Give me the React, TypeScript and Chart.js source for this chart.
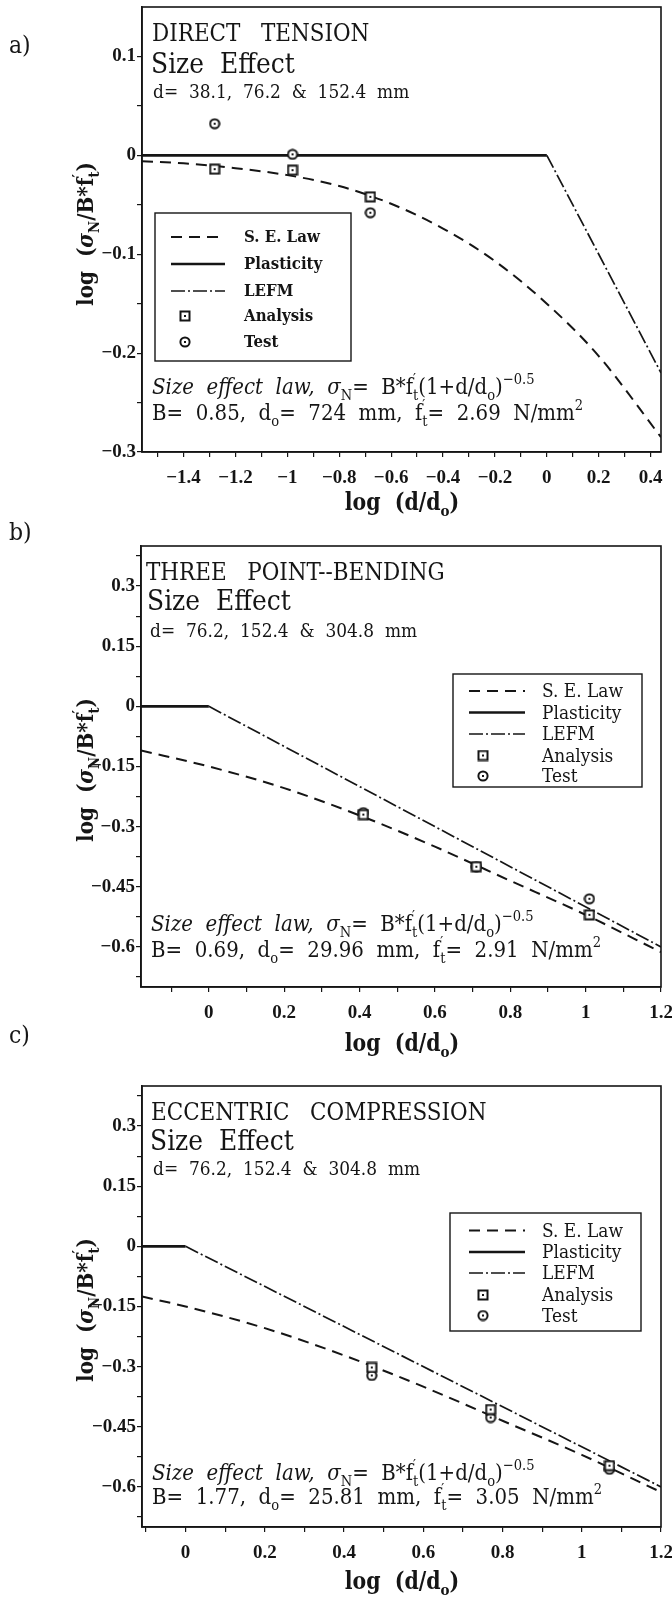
import React, { useEffect, useRef } from "react";
import { Chart, registerables } from "chart.js";

Chart.register(...registerables);

const FAMILY = "'DejaVu Serif', 'Liberation Serif', serif";
const TICK_FAMILY = "'Liberation Serif', 'DejaVu Serif', serif";
const INK = "#151515";

// ---------------- Panel a) DIRECT TENSION ----------------
const aXTicks = [-1.4, -1.2, -1, -0.8, -0.6, -0.4, -0.2, 0, 0.2, 0.4];
const aXTickLabels = ["−1.4", "−1.2", "−1", "−0.8", "−0.6", "−0.4", "−0.2", "0", "0.2", "0.4"];
const aXMinorTicks = [-1.5, -1.3, -1.1, -0.9, -0.7, -0.5, -0.3, -0.1, 0.1, 0.3];
const aYTicks = [0.1, 0, -0.1, -0.2, -0.3];
const aYTickLabels = ["0.1", "0", "−0.1", "−0.2", "−0.3"];
const aYMinorTicks = [0.05, -0.05, -0.15, -0.25];
const aLawX = [-1.56, -1.4, -1.2, -1.0, -0.8, -0.6, -0.4, -0.2, 0, 0.2, 0.44];
const aLawY = [-0.006, -0.008, -0.013, -0.02, -0.031, -0.049, -0.074, -0.107, -0.15, -0.203, -0.285];
const aPlastX = [-1.56, 0];
const aPlastY = [0, 0];
const aLefmX = [0, 0.44];
const aLefmY = [0, -0.22];
const aAnalysisX = [-1.28, -0.98, -0.68];
const aAnalysisY = [-0.014, -0.015, -0.042];
const aTestX = [-1.28, -0.98, -0.68];
const aTestY = [0.032, 0.001, -0.058];

// ---------------- Panel b) THREE POINT-BENDING ----------------
const bXTicks = [0, 0.2, 0.4, 0.6, 0.8, 1, 1.2];
const bXTickLabels = ["0", "0.2", "0.4", "0.6", "0.8", "1", "1.2"];
const bXMinorTicks = [-0.1, 0.1, 0.3, 0.5, 0.7, 0.9, 1.1];
const bYTicks = [0.3, 0.15, 0, -0.15, -0.3, -0.45, -0.6];
const bYTickLabels = ["0.3", "0.15", "0", "−0.15", "−0.3", "−0.45", "−0.6"];
const bYMinorTicks = [0.375, 0.225, 0.075, -0.075, -0.225, -0.375, -0.525, -0.675];
const bLawX = [-0.18, 0, 0.2, 0.4, 0.6, 0.8, 1.0, 1.2];
const bLawY = [-0.11, -0.15, -0.204, -0.272, -0.35, -0.435, -0.52, -0.613];
const bPlastX = [-0.18, 0];
const bPlastY = [0, 0];
const bLefmX = [0, 1.2];
const bLefmY = [0, -0.6];
const bAnalysisX = [0.41, 0.71, 1.01];
const bAnalysisY = [-0.27, -0.4, -0.52];
const bTestX = [0.41, 0.71, 1.01];
const bTestY = [-0.265, -0.4, -0.48];

// ---------------- Panel c) ECCENTRIC COMPRESSION ----------------
const cXTicks = [0, 0.2, 0.4, 0.6, 0.8, 1, 1.2];
const cXTickLabels = ["0", "0.2", "0.4", "0.6", "0.8", "1", "1.2"];
const cXMinorTicks = [-0.1, 0.1, 0.3, 0.5, 0.7, 0.9, 1.1];
const cYTicks = [0.3, 0.15, 0, -0.15, -0.3, -0.45, -0.6];
const cYTickLabels = ["0.3", "0.15", "0", "−0.15", "−0.3", "−0.45", "−0.6"];
const cYMinorTicks = [0.375, 0.225, 0.075, -0.075, -0.225, -0.375, -0.525, -0.675];
const cLawX = [-0.11, 0, 0.2, 0.4, 0.6, 0.8, 1.0, 1.2];
const cLawY = [-0.125, -0.15, -0.204, -0.272, -0.35, -0.435, -0.52, -0.613];
const cPlastX = [-0.11, 0];
const cPlastY = [0, 0];
const cLefmX = [0, 1.2];
const cLefmY = [0, -0.6];
const cAnalysisX = [0.47, 0.77, 1.07];
const cAnalysisY = [-0.302, -0.407, -0.547];
const cTestX = [0.47, 0.77, 1.07];
const cTestY = [-0.322, -0.427, -0.556];

const legendLabels = ["S. E. Law", "Plasticity", "LEFM", "Analysis", "Test"];

type Seg = { t: string; sub?: boolean; sup?: boolean; it?: boolean; stack?: boolean };
type RichLine = {
  x: number;
  y: number;
  size: number;
  bold?: boolean;
  rot?: boolean;
  center?: boolean;
  segs: Seg[];
};

const formulaSegs: Seg[] = [
  { t: "Size  effect  law,", it: true },
  { t: "  " },
  { t: "σ", it: true },
  { t: "N", sub: true },
  { t: "=  B*f" },
  { t: "′", sup: true, stack: true },
  { t: "t", sub: true },
  { t: "(1+d/d" },
  { t: "o", sub: true },
  { t: ")" },
  { t: "−0.5", sup: true },
];

function paramSegs(B: string, d0: string, ft: string): Seg[] {
  return [
    { t: "B=  " + B + ",  d" },
    { t: "o", sub: true },
    { t: "=  " + d0 + "  mm,  f" },
    { t: "′", sup: true, stack: true },
    { t: "t", sub: true },
    { t: "=  " + ft + "  N/mm" },
    { t: "2", sup: true },
  ];
}

const yTitleSegs: Seg[] = [
  { t: "log  (" },
  { t: "σ", it: true },
  { t: "N", sub: true },
  { t: "/B*f" },
  { t: "′", sup: true, stack: true },
  { t: "t", sub: true },
  { t: ")" },
];
const xTitleSegs: Seg[] = [{ t: "log  (d/d" }, { t: "o", sub: true }, { t: ")" }];

type LegendCfg = {
  box: [number, number, number, number];
  rows: number[];
  lineX: [number, number];
  markX: number;
  textX: number;
  size: number;
  bold: boolean;
};

type PanelCfg = {
  key: string;
  top: number;
  height: number;
  area: { left: number; right: number; top: number; bottom: number };
  xMin: number;
  xMax: number;
  yMin: number;
  yMax: number;
  xTicks: number[];
  xLabels: string[];
  xMinor: number[];
  yTicks: number[];
  yLabels: string[];
  yMinor: number[];
  lawX: number[];
  lawY: number[];
  plastX: number[];
  plastY: number[];
  lefmX: number[];
  lefmY: number[];
  anX: number[];
  anY: number[];
  teX: number[];
  teY: number[];
  texts: RichLine[];
  legend: LegendCfg;
};

const panels: PanelCfg[] = [
  {
    key: "a",
    top: 0,
    height: 520,
    area: { left: 142, right: 661, top: 7, bottom: 452 },
    xMin: -1.56,
    xMax: 0.44,
    yMin: -0.3,
    yMax: 0.15,
    xTicks: aXTicks,
    xLabels: aXTickLabels,
    xMinor: aXMinorTicks,
    yTicks: aYTicks,
    yLabels: aYTickLabels,
    yMinor: aYMinorTicks,
    lawX: aLawX,
    lawY: aLawY,
    plastX: aPlastX,
    plastY: aPlastY,
    lefmX: aLefmX,
    lefmY: aLefmY,
    anX: aAnalysisX,
    anY: aAnalysisY,
    teX: aTestX,
    teY: aTestY,
    texts: [
      { x: 9, y: 53, size: 22, segs: [{ t: "a)" }] },
      { x: 152, y: 41, size: 21.5, segs: [{ t: "DIRECT   TENSION" }] },
      { x: 151, y: 73, size: 25, segs: [{ t: "Size  Effect" }] },
      { x: 153, y: 98, size: 17, segs: [{ t: "d=  38.1,  76.2  &  152.4  mm" }] },
      { x: 152, y: 394, size: 19.8, segs: formulaSegs },
      { x: 152, y: 420, size: 19.8, segs: paramSegs("0.85", "724", "2.69") },
      { x: 93, y: 234, size: 20, bold: true, rot: true, center: true, segs: yTitleSegs },
      { x: 402, y: 510, size: 20.5, bold: true, center: true, segs: xTitleSegs },
    ],
    legend: {
      box: [155, 213, 351, 361],
      rows: [237, 264, 291, 316, 342],
      lineX: [171, 225],
      markX: 185,
      textX: 244,
      size: 15,
      bold: true,
    },
  },
  {
    key: "b",
    top: 520,
    height: 540,
    area: { left: 141, right: 661, top: 26, bottom: 467 },
    xMin: -0.18,
    xMax: 1.2,
    yMin: -0.7,
    yMax: 0.4,
    xTicks: bXTicks,
    xLabels: bXTickLabels,
    xMinor: bXMinorTicks,
    yTicks: bYTicks,
    yLabels: bYTickLabels,
    yMinor: bYMinorTicks,
    lawX: bLawX,
    lawY: bLawY,
    plastX: bPlastX,
    plastY: bPlastY,
    lefmX: bLefmX,
    lefmY: bLefmY,
    anX: bAnalysisX,
    anY: bAnalysisY,
    teX: bTestX,
    teY: bTestY,
    texts: [
      { x: 9, y: 20, size: 22, segs: [{ t: "b)" }] },
      { x: 146, y: 60, size: 21.5, segs: [{ t: "THREE   POINT--BENDING" }] },
      { x: 147, y: 90, size: 25, segs: [{ t: "Size  Effect" }] },
      { x: 150, y: 117, size: 17, segs: [{ t: "d=  76.2,  152.4  &  304.8  mm" }] },
      { x: 151, y: 411, size: 19.8, segs: formulaSegs },
      { x: 151, y: 437, size: 19.8, segs: paramSegs("0.69", "29.96", "2.91") },
      { x: 93, y: 250, size: 20, bold: true, rot: true, center: true, segs: yTitleSegs },
      { x: 402, y: 531, size: 20.5, bold: true, center: true, segs: xTitleSegs },
      { x: 9, y: 523, size: 22, segs: [{ t: "c)" }] },
    ],
    legend: {
      box: [453, 154, 642, 267],
      rows: [171, 192.5, 214, 235.5, 256],
      lineX: [469, 525],
      markX: 483,
      textX: 542,
      size: 17,
      bold: false,
    },
  },
  {
    key: "c",
    top: 1060,
    height: 538,
    area: { left: 142, right: 661, top: 26, bottom: 467 },
    xMin: -0.11,
    xMax: 1.2,
    yMin: -0.7,
    yMax: 0.4,
    xTicks: cXTicks,
    xLabels: cXTickLabels,
    xMinor: cXMinorTicks,
    yTicks: cYTicks,
    yLabels: cYTickLabels,
    yMinor: cYMinorTicks,
    lawX: cLawX,
    lawY: cLawY,
    plastX: cPlastX,
    plastY: cPlastY,
    lefmX: cLefmX,
    lefmY: cLefmY,
    anX: cAnalysisX,
    anY: cAnalysisY,
    teX: cTestX,
    teY: cTestY,
    texts: [
      { x: 151, y: 60, size: 21.5, segs: [{ t: "ECCENTRIC   COMPRESSION" }] },
      { x: 150, y: 90, size: 25, segs: [{ t: "Size  Effect" }] },
      { x: 153, y: 115, size: 17, segs: [{ t: "d=  76.2,  152.4  &  304.8  mm" }] },
      { x: 152, y: 420, size: 19.8, segs: formulaSegs },
      { x: 152, y: 444, size: 19.8, segs: paramSegs("1.77", "25.81", "3.05") },
      { x: 93, y: 250, size: 20, bold: true, rot: true, center: true, segs: yTitleSegs },
      { x: 402, y: 529, size: 20.5, bold: true, center: true, segs: xTitleSegs },
    ],
    legend: {
      box: [450, 153, 641, 271],
      rows: [170.5, 192, 213, 235, 255.5],
      lineX: [469, 525],
      markX: 483,
      textX: 542,
      size: 17,
      bold: false,
    },
  },
];

// ---------------- drawing helpers ----------------
const VSTRETCH = 1.14;

function segFont(s: Seg, size: number, bold?: boolean) {
  const fs = s.sub || s.sup ? size * 0.66 : size;
  return `${s.it ? "italic " : ""}${bold ? "bold " : ""}${fs.toFixed(1)}px ${FAMILY}`;
}

function measureRich(ctx: CanvasRenderingContext2D, l: RichLine) {
  let w = 0;
  for (const s of l.segs) {
    ctx.font = segFont(s, l.size, l.bold);
    if (!s.stack) w += ctx.measureText(s.t).width;
  }
  return w;
}

function drawRich(ctx: CanvasRenderingContext2D, l: RichLine) {
  ctx.save();
  ctx.fillStyle = INK;
  ctx.textAlign = "left";
  ctx.textBaseline = "alphabetic";
  const w = measureRich(ctx, l);
  ctx.translate(l.x, l.y);
  if (l.rot) ctx.rotate(-Math.PI / 2);
  ctx.scale(1, VSTRETCH);
  let cx = l.center ? -w / 2 : 0;
  for (const s of l.segs) {
    ctx.font = segFont(s, l.size, l.bold);
    const dy = s.sub ? l.size * 0.26 : s.sup ? -l.size * 0.45 : 0;
    ctx.fillText(s.t, cx, dy);
    if (!s.stack) cx += ctx.measureText(s.t).width;
  }
  ctx.restore();
}

function makeMarker(kind: "square" | "circle") {
  const size = 12;
  const c = document.createElement("canvas");
  c.width = size;
  c.height = size;
  const g = c.getContext("2d")!;
  g.fillStyle = "#fff";
  g.strokeStyle = INK;
  g.lineWidth = 2;
  const m = size / 2;
  if (kind === "square") {
    g.fillRect(1, 1, size - 2, size - 2);
    g.strokeRect(1.5, 1.5, size - 3, size - 3);
  } else {
    g.beginPath();
    g.arc(m, m, m - 1.4, 0, Math.PI * 2);
    g.fill();
    g.stroke();
  }
  g.fillStyle = INK;
  g.fillRect(m - 1, m - 1, 2, 2);
  return c;
}

function makeDecor(p: PanelCfg, sq: HTMLCanvasElement, ci: HTMLCanvasElement) {
  return {
    id: "decor_" + p.key,
    afterDatasetsDraw(chart: any) {
      const ctx: CanvasRenderingContext2D = chart.ctx;
      const a = chart.chartArea;
      ctx.save();
      ctx.strokeStyle = INK;
      ctx.lineWidth = 1.6;
      ctx.strokeRect(a.left, a.top, a.right - a.left, a.bottom - a.top);
      ctx.restore();

      // legend
      const lg = p.legend;
      ctx.save();
      ctx.fillStyle = "#fff";
      ctx.strokeStyle = INK;
      ctx.lineWidth = 1.4;
      const [x1, y1, x2, y2] = lg.box;
      ctx.fillRect(x1, y1, x2 - x1, y2 - y1);
      ctx.strokeRect(x1, y1, x2 - x1, y2 - y1);
      const ds = chart.data.datasets;
      lg.rows.forEach((ry: number, i: number) => {
        const d = ds[i];
        if (i < 3) {
          ctx.save();
          ctx.strokeStyle = INK;
          ctx.lineWidth = d.borderWidth;
          ctx.setLineDash(d.borderDash || []);
          ctx.beginPath();
          ctx.moveTo(lg.lineX[0], ry);
          ctx.lineTo(lg.lineX[1], ry);
          ctx.stroke();
          ctx.restore();
        } else {
          const img = i === 3 ? sq : ci;
          ctx.drawImage(img, lg.markX - img.width / 2, ry - img.height / 2);
        }
        drawRich(ctx, {
          x: lg.textX,
          y: ry + lg.size * 0.36,
          size: lg.size,
          bold: lg.bold,
          segs: [{ t: legendLabels[i] }],
        });
      });
      ctx.restore();

      for (const t of p.texts) drawRich(ctx, t);
    },
  };
}

function buildConfig(p: PanelCfg): any {
  const sq = makeMarker("square");
  const ci = makeMarker("circle");
  const xAll = [...p.xTicks, ...p.xMinor].sort((u, v) => u - v);
  const yAll = [...p.yTicks, ...p.yMinor].sort((u, v) => u - v);
  const lab = (ticks: number[], labels: string[]) => (v: number) => {
    const i = ticks.findIndex((t) => Math.abs(t - v) < 1e-6);
    return i >= 0 ? labels[i] : "";
  };
  const pts = (xs: number[], ys: number[]) => xs.map((x, i) => ({ x, y: ys[i] }));
  const tickFont = { family: TICK_FAMILY, size: 19, weight: "bold" as const };
  return {
    type: "line",
    data: {
      datasets: [
        {
          label: legendLabels[0],
          data: pts(p.lawX, p.lawY),
          borderColor: INK,
          borderWidth: 2,
          borderDash: [11, 7],
          pointRadius: 0,
          cubicInterpolationMode: "monotone",
          fill: false,
          order: 2,
        },
        {
          label: legendLabels[1],
          data: pts(p.plastX, p.plastY),
          borderColor: INK,
          borderWidth: 2.6,
          pointRadius: 0,
          fill: false,
          order: 2,
        },
        {
          label: legendLabels[2],
          data: pts(p.lefmX, p.lefmY),
          borderColor: INK,
          borderWidth: 1.7,
          borderDash: [14, 3, 2, 3],
          pointRadius: 0,
          fill: false,
          order: 2,
        },
        {
          label: legendLabels[3],
          data: pts(p.anX, p.anY),
          showLine: false,
          pointStyle: sq,
          pointRadius: 5,
          borderColor: INK,
          order: 0,
        },
        {
          label: legendLabels[4],
          data: pts(p.teX, p.teY),
          showLine: false,
          pointStyle: ci,
          pointRadius: 5,
          borderColor: INK,
          order: 1,
        },
      ],
    },
    options: {
      animation: false,
      responsive: false,
      maintainAspectRatio: false,
      events: [],
      layout: { padding: { top: p.area.top, right: 672 - p.area.right, left: 0, bottom: 0 } },
      plugins: { legend: { display: false }, tooltip: { enabled: false }, title: { display: false } },
      scales: {
        x: {
          type: "linear",
          min: p.xMin,
          max: p.xMax,
          afterBuildTicks: (s: any) => {
            s.ticks = xAll.map((v) => ({ value: v }));
          },
          afterFit: (s: any) => {
            s.height = p.height - p.area.bottom;
            s.paddingLeft = 0;
            s.paddingRight = 0;
          },
          ticks: {
            autoSkip: false,
            maxRotation: 0,
            padding: 10,
            color: INK,
            font: tickFont,
            callback: lab(p.xTicks, p.xLabels),
          },
          grid: { drawOnChartArea: false, drawTicks: true, tickLength: 5, color: INK, lineWidth: 1.2 },
          border: { display: true, color: INK, width: 1.6 },
        },
        y: {
          type: "linear",
          min: p.yMin,
          max: p.yMax,
          afterBuildTicks: (s: any) => {
            s.ticks = yAll.map((v) => ({ value: v }));
          },
          afterFit: (s: any) => {
            s.width = p.area.left;
            s.paddingTop = 0;
            s.paddingBottom = 0;
          },
          ticks: {
            autoSkip: false,
            padding: 1,
            color: INK,
            font: tickFont,
            callback: lab(p.yTicks, p.yLabels),
          },
          grid: { drawOnChartArea: false, drawTicks: true, tickLength: 5, color: INK, lineWidth: 1.2 },
          border: { display: true, color: INK, width: 1.6 },
        },
      },
    },
    plugins: [makeDecor(p, sq, ci)],
  };
}

function Panel({ cfg }: { cfg: PanelCfg }) {
  const ref = useRef<HTMLCanvasElement>(null);
  useEffect(() => {
    const chart = new Chart(ref.current!, buildConfig(cfg));
    return () => chart.destroy();
  }, [cfg]);
  return (
    <canvas
      ref={ref}
      width={672}
      height={cfg.height}
      style={{ position: "absolute", left: 0, top: cfg.top, width: 672, height: cfg.height }}
    />
  );
}

export default function App() {
  return (
    <div style={{ position: "absolute", left: 0, top: 0, width: 672, height: 1598, background: "#fff", overflow: "hidden" }}>
      {panels.map((p) => (
        <Panel key={p.key} cfg={p} />
      ))}
    </div>
  );
}
